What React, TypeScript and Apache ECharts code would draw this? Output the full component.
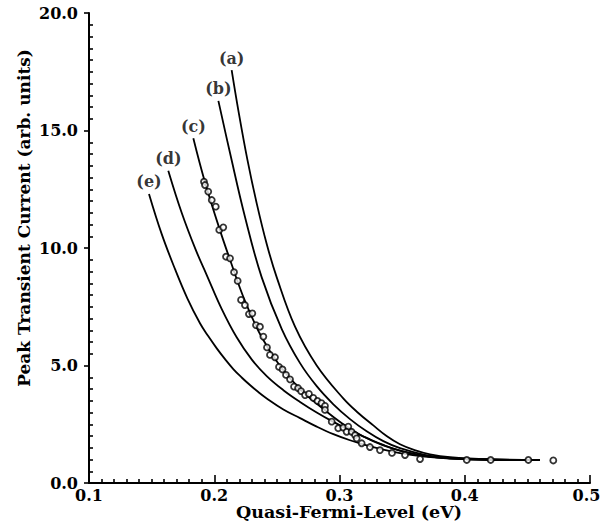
import React, { useEffect, useRef } from "react";
import * as echarts from "echarts";

const xTicks = [0.1, 0.2, 0.3, 0.4, 0.5];
const yTicks = [0, 5, 10, 15, 20];
const curveLabels = ["(a)", "(b)", "(c)", "(d)", "(e)"];
const xTitle = "Quasi-Fermi-Level (eV)";
const yTitle = "Peak Transient Current (arb. units)";

const curveA: number[][] = [
  [0.2139, 17.57], [0.2192, 15.87], [0.2265, 13.75], [0.2339, 11.9], [0.242, 10.15],
  [0.2499, 8.75], [0.2645, 6.65], [0.2818, 5.0], [0.303, 3.6], [0.315, 2.98],
  [0.327, 2.45], [0.3376, 2.0], [0.3483, 1.65], [0.36, 1.4], [0.3723, 1.22],
  [0.3882, 1.1], [0.42, 1.01], [0.46, 0.98],
];
const curveB: number[][] = [
  [0.2033, 16.26], [0.2126, 14.04], [0.2245, 11.33], [0.2379, 8.75], [0.2539, 6.55],
  [0.2685, 5.1], [0.2818, 4.12], [0.2951, 3.35], [0.3084, 2.72], [0.3217, 2.2],
  [0.335, 1.78], [0.3483, 1.48], [0.368, 1.2], [0.3882, 1.07], [0.42, 1.0], [0.46, 0.98],
];
const curveC: number[][] = [
  [0.1833, 14.67], [0.1926, 12.8], [0.2046, 10.75], [0.2126, 9.5], [0.2245, 7.75],
  [0.2379, 6.2], [0.2525, 4.98], [0.2685, 4.0], [0.2871, 3.15], [0.303, 2.5],
  [0.319, 1.98], [0.335, 1.6], [0.3483, 1.38], [0.368, 1.16], [0.3882, 1.05],
  [0.42, 0.99], [0.46, 0.98],
];
const curveD: number[][] = [
  [0.1633, 13.29], [0.174, 11.5], [0.185, 9.95], [0.194, 8.85], [0.206, 7.4],
  [0.2179, 6.2], [0.23, 5.25], [0.2419, 4.55], [0.2552, 3.95], [0.2685, 3.45],
  [0.2818, 3.0], [0.2951, 2.6], [0.3084, 2.24], [0.3217, 1.92], [0.335, 1.62],
  [0.3483, 1.38], [0.368, 1.15], [0.3882, 1.05], [0.42, 0.99], [0.46, 0.98],
];
const curveE: number[][] = [
  [0.1479, 12.3], [0.158, 10.6], [0.1687, 9.1], [0.1786, 7.85], [0.1886, 6.8],
  [0.1953, 6.24], [0.202, 5.73], [0.2086, 5.27], [0.2152, 4.85], [0.2219, 4.49],
  [0.2285, 4.17], [0.2352, 3.87], [0.2419, 3.6], [0.2552, 3.13],
  [0.2685, 2.76], [0.2818, 2.4], [0.2951, 2.08], [0.3084, 1.82], [0.3217, 1.6],
  [0.335, 1.42], [0.3483, 1.27], [0.368, 1.12], [0.3882, 1.04], [0.42, 0.99], [0.46, 0.98],
];
const measured: number[][] = [
  [0.1918, 12.82], [0.1926, 12.68], [0.1952, 12.4], [0.198, 12.04], [0.2012, 11.76],
  [0.204, 10.77], [0.2072, 10.88], [0.2094, 9.63], [0.2126, 9.56], [0.2158, 8.97],
  [0.2187, 8.6], [0.2214, 7.79], [0.2245, 7.57], [0.2277, 7.19], [0.2304, 7.22],
  [0.2333, 6.72], [0.2365, 6.65], [0.2392, 6.23], [0.2421, 5.77], [0.2445, 5.45],
  [0.2485, 5.35], [0.2517, 4.94], [0.2545, 4.83], [0.2573, 4.6], [0.2605, 4.41],
  [0.2637, 4.1], [0.2669, 4.04], [0.2693, 3.91], [0.2725, 3.74], [0.2756, 3.79],
  [0.2791, 3.62], [0.2824, 3.49], [0.2856, 3.4], [0.2884, 3.28], [0.2884, 3.11],
  [0.2938, 2.61], [0.299, 2.33], [0.303, 2.36], [0.307, 2.4], [0.3057, 2.18],
  [0.3097, 2.18], [0.3124, 2.04], [0.3137, 1.9], [0.3177, 1.69], [0.3243, 1.53],
  [0.3323, 1.4], [0.3419, 1.28], [0.3523, 1.19], [0.3643, 1.02], [0.4016, 0.98],
  [0.4207, 0.98], [0.4508, 0.98], [0.4707, 0.96],
];

const FONT = "DejaVu Serif";

export default function App() {
  const ref = useRef<HTMLDivElement>(null);
  useEffect(() => {
    if (!ref.current) return;
    const chart = echarts.init(ref.current, null, { renderer: "svg" });
    const curves = [curveA, curveB, curveC, curveD, curveE];
    const labelStyle = {
      color: "#000",
      fontFamily: FONT,
      fontWeight: "bold",
      fontSize: 16,
    };
    const lastX = xTicks[xTicks.length - 1];
    chart.setOption({
      animation: false,
      backgroundColor: "#fff",
      grid: { left: 89, right: 10, top: 13, bottom: 44, outerBoundsMode: "none", containLabel: false },
      xAxis: {
        type: "value",
        min: xTicks[0],
        max: lastX,
        interval: 0.1,
        axisLine: { lineStyle: { color: "#000", width: 2 } },
        axisTick: { inside: true, length: 8, lineStyle: { color: "#000", width: 1.6 } },
        minorTick: { show: true, splitNumber: 10, length: 4, lineStyle: { color: "#000", width: 1.6 } },
        splitLine: { show: false },
        minorSplitLine: { show: false },
        axisLabel: {
          ...labelStyle,
          margin: 4,
          showMinLabel: true,
          showMaxLabel: true,
          hideOverlap: false,
          formatter: (v: number) =>
            Math.abs(v - lastX) < 1e-9 ? `{r|${v.toFixed(1)}}` : v.toFixed(1),
          rich: {
            r: { ...labelStyle, padding: [0, 7, 0, 0] },
          },
        },
      },
      yAxis: [
        {
          type: "value",
          position: "left",
          min: yTicks[0],
          max: yTicks[yTicks.length - 1],
          interval: 5,
          axisLine: { show: true, lineStyle: { color: "#000", width: 2 } },
          axisTick: { show: true, inside: false, length: 5, lineStyle: { color: "#000", width: 1.6 } },
          splitLine: { show: false },
          axisLabel: {
            ...labelStyle,
            margin: 11,
            showMinLabel: true,
            showMaxLabel: true,
            formatter: (v: number) => v.toFixed(1),
          },
        },
        {
          type: "value",
          position: "left",
          min: yTicks[0],
          max: yTicks[yTicks.length - 1],
          interval: 5,
          axisLine: { show: false },
          axisTick: { show: false, inside: true },
          minorTick: { show: true, splitNumber: 10, length: 4, lineStyle: { color: "#000", width: 1.6 } },
          splitLine: { show: false },
          axisLabel: { show: false },
        },
      ],
      graphic: [
        {
          type: "text",
          x: 349,
          y: 512,
          style: {
            text: xTitle,
            fill: "#000",
            font: `bold 17.5px "${FONT}"`,
            textAlign: "center",
            textVerticalAlign: "middle",
          },
        },
        {
          type: "text",
          x: 24,
          y: 218,
          rotation: Math.PI / 2,
          style: {
            text: yTitle,
            fill: "#000",
            font: `bold 17px "${FONT}"`,
            textAlign: "center",
            textVerticalAlign: "middle",
          },
        },
      ],
      series: [
        ...curves.map((c, i) => ({
          name: curveLabels[i],
          type: "line",
          data: c,
          smooth: 0.4,
          showSymbol: false,
          symbol: "none",
          lineStyle: { color: "#000", width: 1.8 },
          z: 2,
        })),
        {
          name: "labels",
          type: "scatter",
          data: curves.map((c, i) => [c[0][0], c[0][1], curveLabels[i]]),
          symbolSize: 0,
          label: {
            show: true,
            position: "top",
            distance: 4,
            ...labelStyle,
            formatter: (p: any) => p.value[2],
          },
          z: 3,
        },
        {
          name: "measured",
          type: "scatter",
          data: measured,
          symbol: "circle",
          symbolSize: 6,
          itemStyle: { color: "#fff", borderColor: "#000", borderWidth: 1.8 },
          z: 4,
        },
      ],
    });
    return () => chart.dispose();
  }, []);
  return (
    <div
      ref={ref}
      style={{ position: "fixed", left: 0, top: 0, width: 600, height: 527 }}
    />
  );
}
